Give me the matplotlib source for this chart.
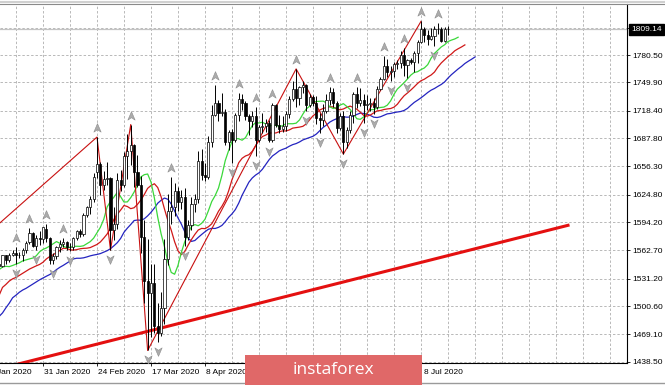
import numpy as np
import matplotlib
matplotlib.use("Agg")
import matplotlib.pyplot as plt
import matplotlib.transforms as mtransforms
from matplotlib.path import Path
from matplotlib.patches import Rectangle
from matplotlib.lines import Line2D

# XAUUSD daily bars. index 0 = 15 Jan 2020, negative indices are warm-up bars left of the chart
first_bar = -9
opens = [1517, 1528, 1552, 1566, 1574, 1556, 1553, 1562, 1548,
         1545, 1557, 1552, 1557, 1560, 1558, 1557, 1563, 1572, 1582,
         1567, 1576, 1575, 1586, 1576, 1552, 1556, 1566, 1570, 1572,
         1566, 1566, 1576, 1584, 1581, 1602, 1611, 1620, 1650, 1659,
         1636, 1642, 1643, 1585, 1592, 1641, 1636, 1668, 1674, 1680,
         1650, 1636, 1577, 1529, 1515, 1526, 1478, 1470, 1498, 1553,
         1607, 1611, 1629, 1617, 1622, 1577, 1591, 1614, 1620, 1662,
         1647, 1645, 1683, 1714, 1727, 1716, 1717, 1683, 1695, 1686,
         1714, 1731, 1727, 1713, 1707, 1713, 1686, 1700, 1701, 1705,
         1686, 1725, 1702, 1698, 1701, 1715, 1731, 1743, 1732, 1745,
         1747, 1725, 1734, 1727, 1710, 1708, 1718, 1730, 1739, 1727,
         1699, 1713, 1684, 1697, 1714, 1737, 1727, 1730, 1725, 1726,
         1727, 1722, 1743, 1754, 1768, 1761, 1763, 1771, 1772, 1781,
         1769, 1775, 1773, 1783, 1795, 1810, 1803, 1798, 1802, 1809,
         1810, 1796, 1809]
highs = [1529, 1553, 1582, 1575, 1611, 1558, 1562, 1562, 1550,
         1558, 1558, 1560, 1563, 1566, 1561, 1565, 1573, 1588, 1583,
         1580, 1584, 1589, 1592, 1578, 1560, 1567, 1574, 1576, 1573,
         1571, 1578, 1585, 1586, 1604, 1612, 1623, 1649, 1689, 1661,
         1651, 1661, 1644, 1611, 1649, 1652, 1672, 1692, 1703, 1681,
         1669, 1646, 1596, 1575, 1548, 1547, 1504, 1516, 1575, 1625,
         1645, 1638, 1633, 1630, 1632, 1596, 1622, 1626, 1674, 1676,
         1660, 1690, 1725, 1747, 1730, 1738, 1720, 1697, 1698, 1716,
         1738, 1737, 1729, 1715, 1718, 1722, 1703, 1716, 1709, 1708,
         1727, 1726, 1714, 1713, 1718, 1735, 1752, 1765, 1746, 1751,
         1748, 1737, 1736, 1735, 1716, 1726, 1737, 1745, 1744, 1729,
         1716, 1718, 1700, 1718, 1739, 1745, 1744, 1737, 1736, 1732,
         1733, 1746, 1756, 1779, 1776, 1768, 1773, 1775, 1785, 1788,
         1776, 1777, 1785, 1797, 1818, 1812, 1808, 1811, 1813, 1816,
         1812, 1812, 1813]
lows = [1517, 1525, 1552, 1556, 1555, 1537, 1548, 1535, 1536,
        1544, 1548, 1550, 1556, 1547, 1554, 1551, 1560, 1570, 1566,
        1563, 1569, 1571, 1572, 1548, 1547, 1553, 1561, 1566, 1563,
        1562, 1563, 1574, 1577, 1579, 1600, 1603, 1617, 1643, 1624,
        1630, 1636, 1563, 1574, 1586, 1629, 1633, 1642, 1658, 1633,
        1633, 1560, 1504, 1451, 1466, 1471, 1460, 1467, 1481, 1546,
        1592, 1601, 1607, 1609, 1567, 1574, 1585, 1605, 1615, 1641,
        1640, 1642, 1678, 1712, 1707, 1713, 1680, 1675, 1660, 1684,
        1707, 1719, 1708, 1691, 1700, 1668, 1683, 1694, 1695, 1683,
        1683, 1700, 1693, 1695, 1696, 1710, 1729, 1722, 1725, 1738,
        1718, 1722, 1724, 1704, 1693, 1701, 1716, 1725, 1722, 1693,
        1697, 1670, 1677, 1694, 1705, 1721, 1724, 1705, 1719, 1718,
        1715, 1720, 1741, 1753, 1756, 1752, 1756, 1765, 1766, 1757,
        1755, 1770, 1762, 1772, 1794, 1795, 1792, 1797, 1790, 1804,
        1795, 1795, 1803]
closes = [1528, 1552, 1566, 1574, 1556, 1553, 1562, 1548, 1545,
          1557, 1552, 1557, 1560, 1558, 1557, 1563, 1571, 1582, 1567,
          1576, 1575, 1589, 1576, 1552, 1556, 1566, 1570, 1572, 1566,
          1566, 1576, 1584, 1581, 1602, 1611, 1620, 1644, 1659, 1636,
          1642, 1643, 1585, 1592, 1641, 1636, 1668, 1674, 1680, 1650,
          1636, 1577, 1529, 1515, 1526, 1478, 1470, 1498, 1553, 1607,
          1611, 1629, 1617, 1622, 1577, 1591, 1614, 1620, 1662, 1647,
          1645, 1683, 1714, 1727, 1716, 1717, 1683, 1695, 1686, 1714,
          1731, 1727, 1713, 1707, 1713, 1686, 1700, 1701, 1705, 1686,
          1725, 1702, 1698, 1701, 1715, 1731, 1743, 1732, 1745, 1747,
          1725, 1734, 1727, 1710, 1708, 1718, 1730, 1739, 1727, 1699,
          1713, 1684, 1697, 1714, 1737, 1727, 1730, 1725, 1726, 1727,
          1722, 1743, 1754, 1768, 1761, 1763, 1771, 1772, 1781, 1769,
          1775, 1773, 1783, 1795, 1810, 1803, 1798, 1802, 1809, 1810,
          1796, 1809, 1809.14]
last_price = 1809.14

# alligator start values (at the first warm-up bar)
jaw_seed, teeth_seed, lips_seed = 1489, 1490, 1500

# zigzag pivots (bar index, price); first one lies off the left edge
zz_bars = [-45, 28, 32, 38, 43, 87, 101, 124]
zz_prices = [1446, 1689, 1563, 1703, 1451, 1765, 1670, 1818]

# hand drawn trend line
trend_bars = [-10, 168]
trend_prices = [1422, 1591]

# top grid level 1811.10 has its label covered by the price box
price_ticks = [1438.50, 1469.10, 1500.60, 1531.20, 1562.70, 1594.20, 1624.80,
               1656.30, 1687.80, 1718.40, 1749.90, 1780.50, 1811.10]
price_labels = ["1438.50", "1469.10", "1500.60", "1531.20", "1562.70", "1594.20", "1624.80",
                "1656.30", "1687.80", "1718.40", "1749.90", "1780.50", ""]
# labels under the watermark are left out
date_bars = [-4, 12, 28, 44, 60, 124]
date_labels = ["9 Jan 2020", "31 Jan 2020", "24 Feb 2020", "17 Mar 2020", "8 Apr 2020",
               "8 Jul 2020"]
tick_bars = [12, 28, 44, 60, 76, 92, 108, 124]


def smma(values, period, seed):
    out = np.empty(len(values))
    out[0] = seed
    for i in range(1, len(values)):
        out[i] = (out[i - 1] * (period - 1) + values[i]) / period
    return out


o = np.array(opens, float)
h = np.array(highs, float)
l = np.array(lows, float)
c = np.array(closes, float)
x = np.arange(first_bar, first_bar + len(c))
median = (h + l) / 2

plt.rcParams["font.family"] = ["Liberation Sans", "DejaVu Sans"]
W, H = 665, 385
fig = plt.figure(figsize=(W / 100, H / 100), dpi=100)
ax = fig.add_axes([0, 1 - 363 / H, 627 / W, 359 / H])

ax.set_xlim(-0.74, 185.04)
ax.set_ylim(1437.05, 1837.37)

# grid
grid_kw = dict(color="#b8b8b8", lw=0.7, ls=(0, (2.5, 2)), zorder=0)
for gx in range(-4, 190, 8):
    ax.axvline(gx, **grid_kw)
for gy in price_ticks:
    ax.axhline(gy, **grid_kw)

# bid line
ax.axhline(last_price, color="#c4c4c4", lw=0.9, zorder=1)

# trend line
ax.plot(trend_bars, trend_prices, color="#e41010", lw=2.2, zorder=2,
        solid_capstyle="butt")

# alligator
jaw = smma(median, 13, jaw_seed)
teeth = smma(median, 8, teeth_seed)
lips = smma(median, 5, lips_seed)
ax.plot(x + 8, jaw, color="#2424c0", lw=0.9, zorder=3)
ax.plot(x + 5, teeth, color="#d01818", lw=0.9, zorder=3)
ax.plot(x + 3, lips, color="#3ad83a", lw=0.9, zorder=3)

# zigzag
ax.plot(zz_bars, zz_prices, color="#c81010", lw=0.8, zorder=3)

# candles
ax.vlines(x, l, h, color="black", lw=0.7, zorder=4)
up = c >= o
body_h = np.maximum(np.abs(c - o), 0.8)
body_b = np.minimum(o, c)
ax.bar(x[up], body_h[up], bottom=body_b[up], width=0.62, color="white",
       edgecolor="black", linewidth=0.5, zorder=5)
ax.bar(x[~up], body_h[~up], bottom=body_b[~up], width=0.62, color="black",
       edgecolor="black", linewidth=0.5, zorder=5)

# fractals
up_fr, dn_fr = [], []
for i in range(2, len(c) - 2):
    if h[i] > h[i - 1] and h[i] > h[i - 2] and h[i] >= h[i + 1] and h[i] >= h[i + 2]:
        up_fr.append(i)
    if l[i] < l[i - 1] and l[i] < l[i - 2] and l[i] <= l[i + 1] and l[i] <= l[i + 2]:
        dn_fr.append(i)

arrow_up = Path([(0, 1), (0.75, -0.75), (0, -0.25), (-0.75, -0.75), (0, 1)],
                [Path.MOVETO, Path.LINETO, Path.LINETO, Path.LINETO, Path.CLOSEPOLY])
arrow_dn = Path([(0, -1), (0.75, 0.75), (0, 0.25), (-0.75, 0.75), (0, -1)],
                [Path.MOVETO, Path.LINETO, Path.LINETO, Path.LINETO, Path.CLOSEPOLY])
tr_up = mtransforms.offset_copy(ax.transData, fig=fig, y=9, units="dots")
tr_dn = mtransforms.offset_copy(ax.transData, fig=fig, y=-9, units="dots")
ax.plot(x[up_fr], h[up_fr], ls="none", marker=arrow_up, ms=7, mfc="#acacac",
        mec="#8c8c8c", mew=0.4, transform=tr_up, zorder=6)
ax.plot(x[dn_fr], l[dn_fr], ls="none", marker=arrow_dn, ms=7, mfc="#acacac",
        mec="#8c8c8c", mew=0.4, transform=tr_dn, zorder=6)

# axes look
for side in ["left", "top"]:
    ax.spines[side].set_visible(False)
for side in ["right", "bottom"]:
    ax.spines[side].set_color("black")
    ax.spines[side].set_linewidth(0.8)
ax.yaxis.tick_right()
ax.set_yticks(price_ticks)
ax.set_yticklabels(price_labels)
ax.tick_params(axis="y", length=2.5, width=0.6, pad=1.5, labelsize=6, colors="black")
ax.set_xticks(tick_bars)
ax.set_xticklabels([])
ax.tick_params(axis="x", length=2.5, width=0.6)

date_tr = mtransforms.blended_transform_factory(ax.transData, ax.transAxes)
for b, lab in zip(date_bars, date_labels):
    shift = 0.9 if b == 124 else 0.4
    ax.text(b + shift, -9 / 359, lab, transform=date_tr, ha="left", va="center",
            fontsize=6, clip_on=False)

# current price box
box_tr = mtransforms.blended_transform_factory(fig.transFigure, ax.transData)
fig.text(631 / W, last_price, f"{last_price:.2f}", transform=box_tr, ha="left", va="center",
         fontsize=6, color="white", zorder=20,
         bbox=dict(boxstyle="square,pad=0.25", fc="black", ec="black"))

# window borders
fig.add_artist(Line2D([0, 1], [1 - 1.5 / H, 1 - 1.5 / H], color="#d0d0d0", lw=1.5))
fig.add_artist(Line2D([0, 1], [1 - 4 / H, 1 - 4 / H], color="#8a8a8a", lw=0.8))
fig.add_artist(Line2D([0, 1], [1 - 382.5 / H, 1 - 382.5 / H], color="#9a9a9a", lw=1.0))

# watermark
fig.add_artist(Rectangle((245 / W, 0), 177 / W, 30 / H, transform=fig.transFigure,
                         fc="#e06868", ec="none", zorder=30))
fig.text(333.5 / W, 1 - 370 / H, "instaforex", ha="center", va="center", color="white",
         fontsize=12.5, family="Open Sans", zorder=31)

fig.savefig("out.png", dpi=100)
